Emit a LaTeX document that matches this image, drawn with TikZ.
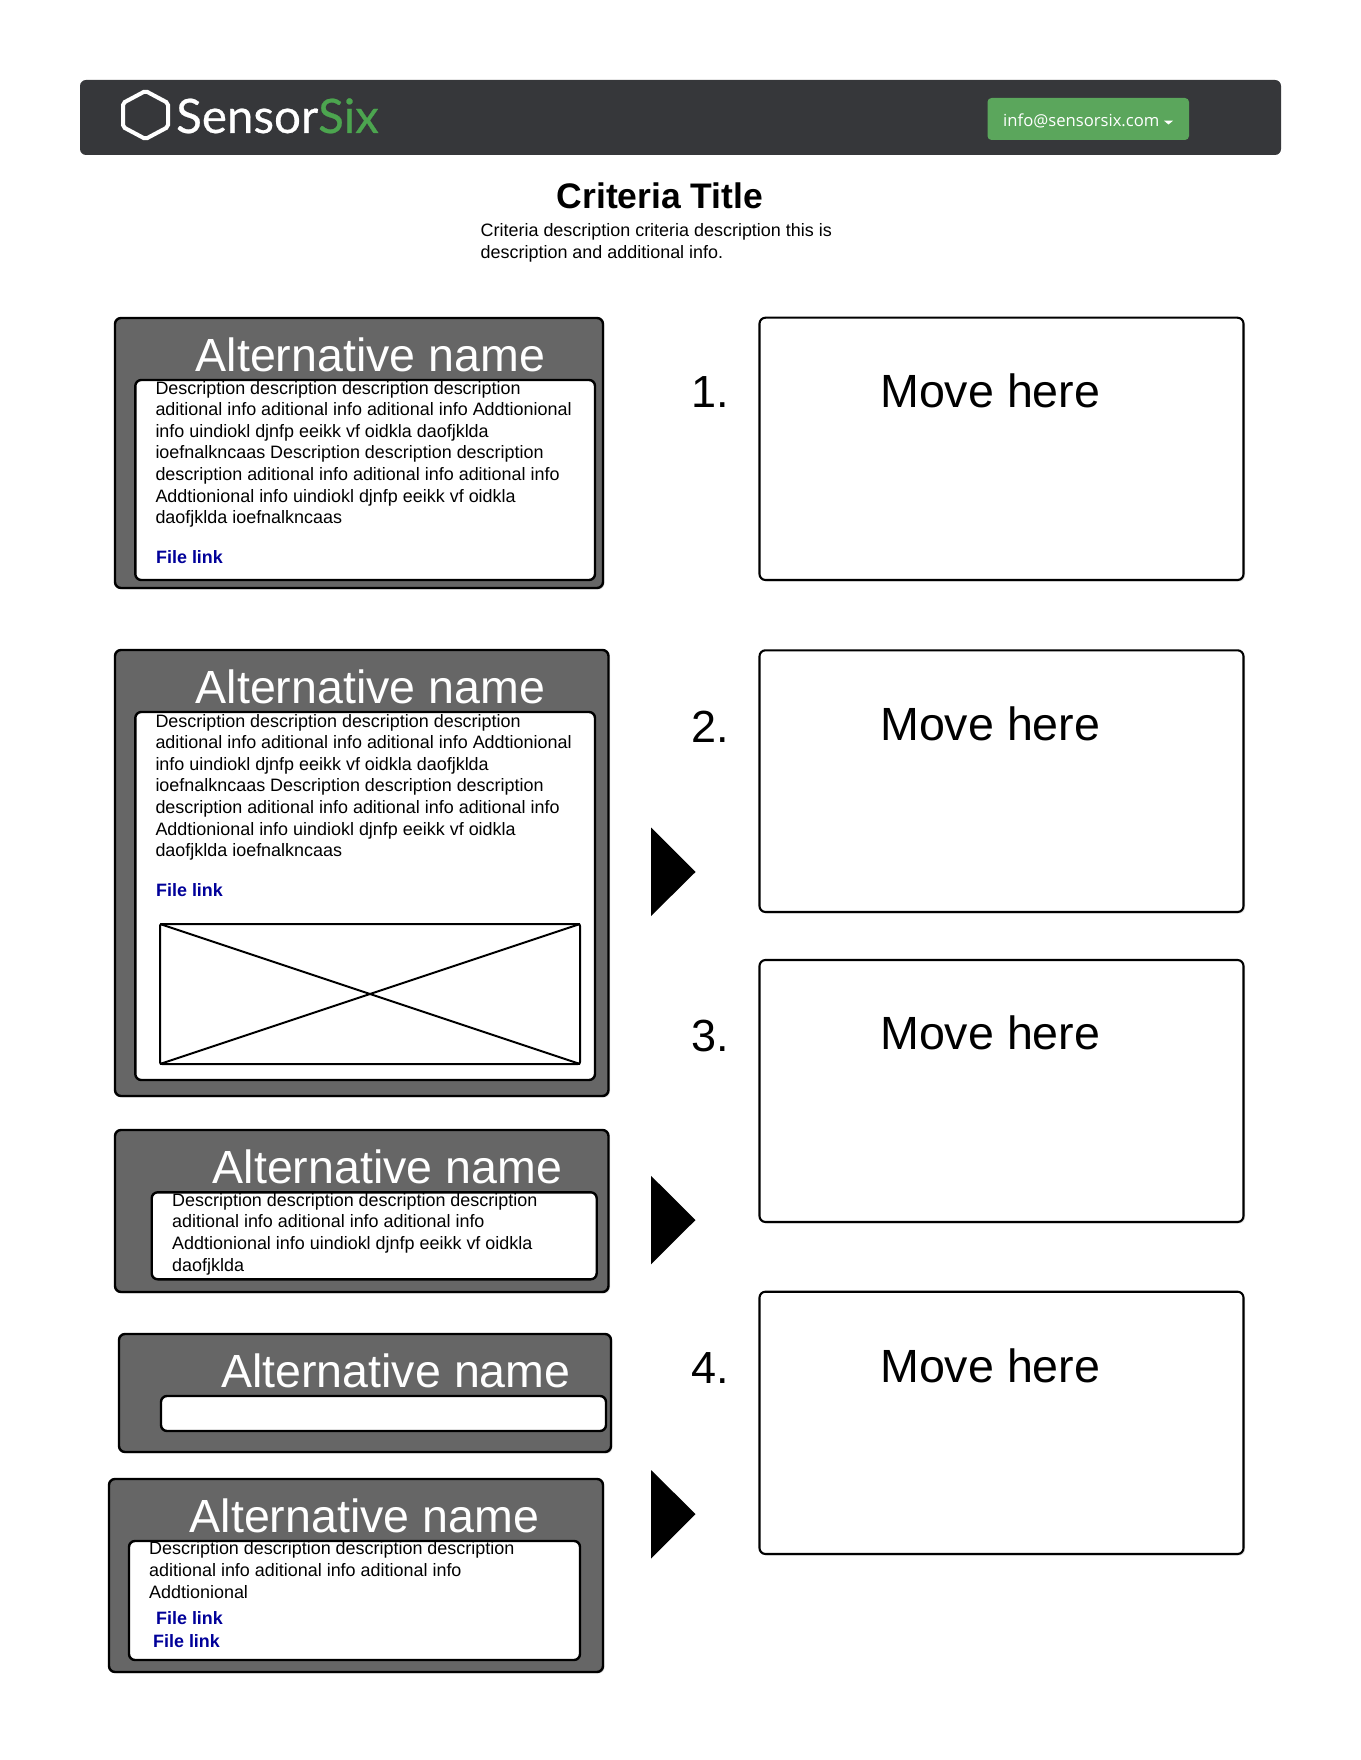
\documentclass[tikz,border=0pt]{standalone}
\usepackage{fontspec}
\usetikzlibrary{shadows}
\setmainfont{Liberation Sans}
\newfontfamily\buttonfont{Open Sans}
\newfontfamily\logofont[FakeBold=0.5]{Lato}
\definecolor{barcolor}{HTML}{36373A}
\definecolor{panelcolor}{HTML}{666666}
\definecolor{greencolor}{HTML}{5BA65C}
\definecolor{sixcolor}{HTML}{4CA54F}
\definecolor{linkcolor}{HTML}{000099}
\tikzset{
	softshadow/.style={drop shadow={shadow xshift=1.5pt, shadow yshift=-1.5pt, opacity=0.12, fill=black}},
	panel/.style={draw=black, line width=2.4pt, fill=panelcolor, rounded corners=6pt, softshadow},
	inset/.style={draw=black, line width=2.4pt, fill=white, rounded corners=6pt},
	dropbox/.style={draw=black, line width=2.1pt, fill=white, rounded corners=6pt, softshadow},
	heading/.style={anchor=base west, inner sep=0pt, text=white, font=\fontsize{46.55}{50}\selectfont},
	bodytext/.style={anchor=base west, inner sep=0pt, align=left, font=\fontsize{17.95}{21.6}\selectfont},
	filelink/.style={anchor=base west, inner sep=0pt, text=linkcolor, font=\fontsize{17.9}{21.6}\selectfont\bfseries},
	movetext/.style={anchor=base west, inner sep=0pt, font=\fontsize{46.6}{50}\selectfont},
	numtext/.style={anchor=base west, inner sep=0pt, font=\fontsize{45}{50}\selectfont},
	pointer/.style={fill=black}
}
\begin{document}
\begin{tikzpicture}[x=1pt, y=-1pt]
	\useasboundingbox (0, 0) rectangle (1360, 1760);

	% top bar
	\fill[barcolor, rounded corners=6pt] (80, 80) rectangle (1281, 155);
	\draw[white, line width=4pt, rounded corners=2pt] (145.5, 91) -- (168, 103) -- (168, 127) -- (145.5, 139) -- (123, 127) -- (123, 103) -- cycle;
	\node[anchor=base west, inner sep=0pt, font=\logofont\fontsize{47.5}{50}\selectfont] (logo) at (176, 133) {\textcolor{white}{Sensor}\textcolor{sixcolor}{Six}};
	\fill[greencolor, rounded corners=4pt] (987.5, 98) rectangle (1189, 140);
	\node[anchor=base west, inner sep=0pt, text=white, font=\buttonfont\fontsize{16.65}{20}\selectfont] (mail) at (1003, 126.5) {info@sensorsix.com};
	\fill[white] (1164, 120.7) -- (1173, 120.7) -- (1168.5, 124.5) -- cycle;

	\node[anchor=base west, inner sep=0pt, font=\fontsize{35.5}{40}\selectfont\bfseries] (title) at (556.5, 208.5) {Criteria Title};
	\node[bodytext] (intro) at (480.5, 258.5) {Criteria description criteria description this is\\description and additional info.};

	% first alternative
	\draw[panel] (115, 318) rectangle (603, 588);
	\node[heading] (nameA) at (195.5, 371) {Alternative name};
	\draw[inset] (135.3, 380) rectangle (595, 580);
	\node[bodytext] (descA) at (155.3, 523.7) {Description description description description\\aditional info aditional info aditional info Addtionional\\info uindiokl djnfp eeikk vf oidkla daofjklda\\ioefnalkncaas Description description description\\description aditional info aditional info aditional info\\Addtionional info uindiokl djnfp eeikk vf oidkla\\daofjklda ioefnalkncaas};
	\node[filelink] (linkA) at (156, 563.3) {File link};

	% second alternative
	\draw[panel] (115, 650) rectangle (608.5, 1096);
	\node[heading] (nameB) at (195.5, 703.3) {Alternative name};
	\draw[inset] (135.3, 712) rectangle (595, 1080);
	\node[bodytext] (descB) at (155.3, 856.7) {Description description description description\\aditional info aditional info aditional info Addtionional\\info uindiokl djnfp eeikk vf oidkla daofjklda\\ioefnalkncaas Description description description\\description aditional info aditional info aditional info\\Addtionional info uindiokl djnfp eeikk vf oidkla\\daofjklda ioefnalkncaas};
	\node[filelink] (linkB) at (156, 896.7) {File link};
	\draw[line width=2pt, fill=white, rounded corners=2pt] (160, 924) rectangle (580, 1064);
	\draw[line width=2pt] (160, 924) -- (580, 1064);
	\draw[line width=2pt] (580, 924) -- (160, 1064);

	% third alternative
	\draw[panel] (115, 1130) rectangle (608.5, 1292);
	\node[heading] (nameC) at (212.5, 1183.3) {Alternative name};
	\draw[inset] (151.7, 1192.3) rectangle (596.7, 1279.3);
	\node[bodytext] (descC) at (172, 1271) {Description description description description\\aditional info aditional info aditional info\\Addtionional info uindiokl djnfp eeikk vf oidkla\\daofjklda};

	% fourth alternative
	\draw[panel] (119, 1334) rectangle (611, 1452);
	\node[heading] (nameD) at (221, 1387) {Alternative name};
	\draw[inset] (161, 1396) rectangle (606, 1431);

	% fifth alternative
	\draw[panel] (109, 1479) rectangle (603, 1672);
	\node[heading] (nameE) at (189.5, 1532) {Alternative name};
	\draw[inset] (129, 1541) rectangle (580, 1660);
	\node[bodytext] (descE) at (149, 1598) {Description description description description\\aditional info aditional info aditional info\\Addtionional};
	\node[filelink] (linkE) at (156, 1624) {File link};
	\node[filelink] (linkF) at (153, 1647) {File link};

	% right column
	\draw[dropbox] (759.5, 317.7) rectangle (1243.5, 580);
	\node[numtext] (numA) at (691.5, 407) {1.};
	\node[movetext] (moveA) at (880, 407) {Move here};
	\draw[dropbox] (759.5, 650.3) rectangle (1243.5, 912);
	\node[numtext] (numB) at (691.5, 742) {2.};
	\node[movetext] (moveB) at (880, 740.3) {Move here};
	\draw[dropbox] (759.5, 960) rectangle (1243.5, 1222);
	\node[numtext] (numC) at (691.5, 1051) {3.};
	\node[movetext] (moveC) at (880, 1049.5) {Move here};
	\draw[dropbox] (759.5, 1291.7) rectangle (1243.5, 1554);
	\node[numtext] (numD) at (691.5, 1383) {4.};
	\node[movetext] (moveD) at (880, 1382.5) {Move here};

	% pointers between the boxes
	\fill[pointer] (651, 827.5) -- (695.5, 872) -- (651, 916) -- cycle;
	\fill[pointer] (651, 1175.8) -- (695.5, 1220) -- (651, 1264.3) -- cycle;
	\fill[pointer] (651, 1470) -- (695.5, 1514) -- (651, 1558.7) -- cycle;
\end{tikzpicture}
\end{document}
